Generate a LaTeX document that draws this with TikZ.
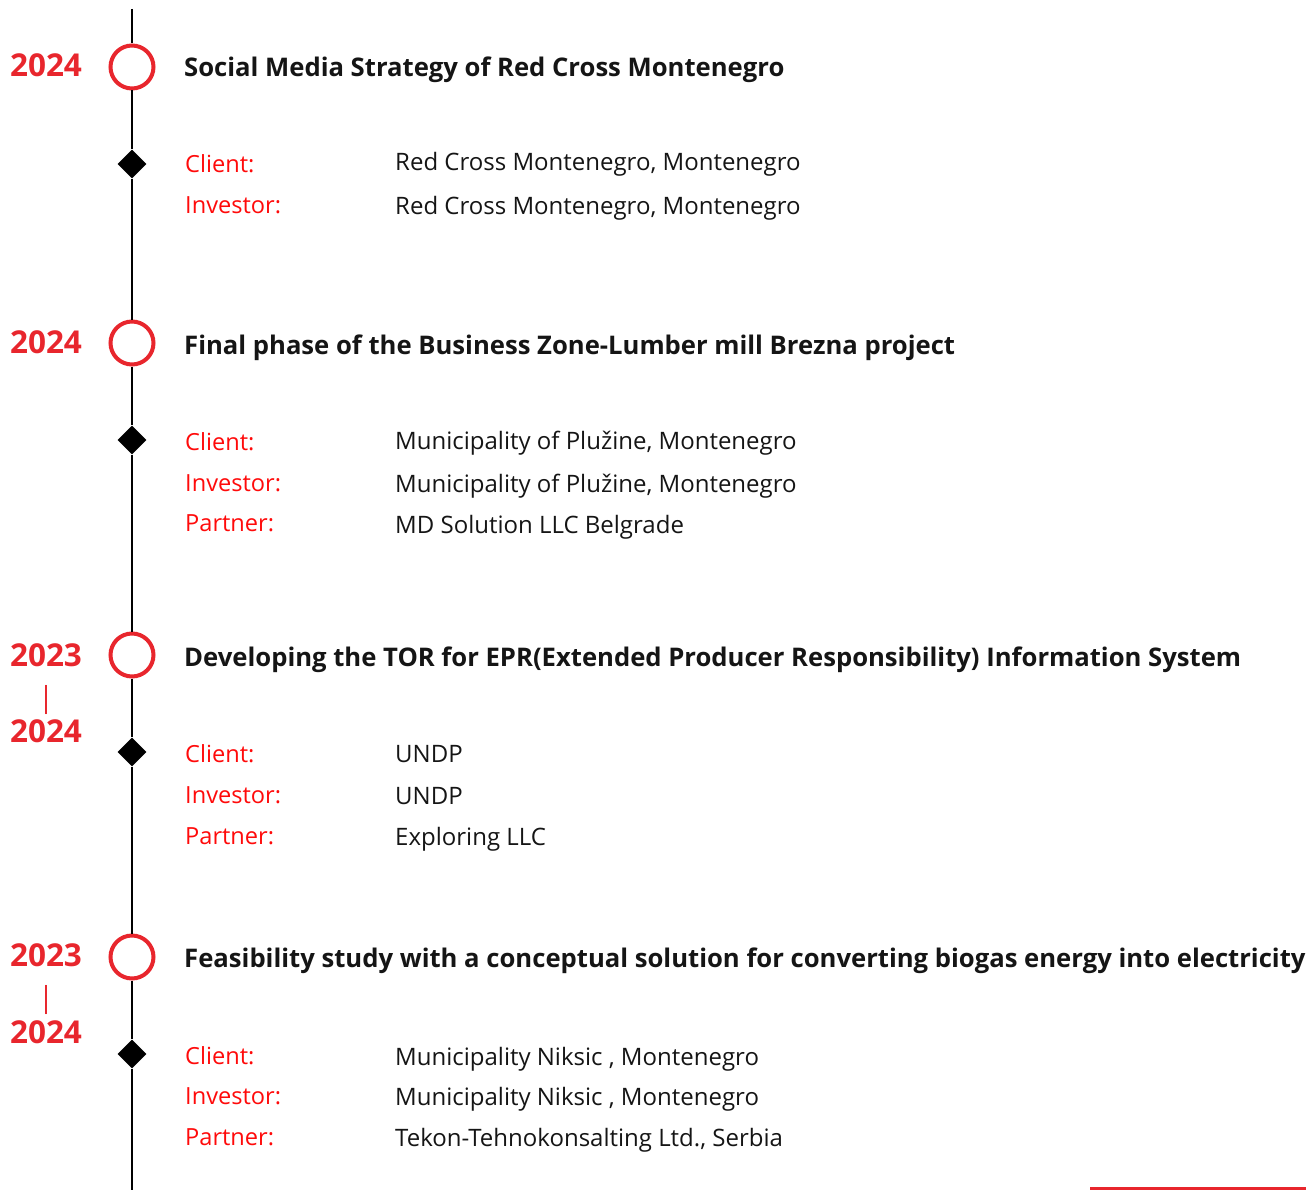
\documentclass[tikz,border=0pt]{standalone}
\usepackage{fontspec}
\setmainfont{Open Sans}
\usepackage{xcolor}
\definecolor{brandred}{HTML}{E8262D}
\definecolor{labelred}{HTML}{FF0A0A}
\definecolor{textdark}{HTML}{151515}
\usetikzlibrary{shapes.geometric}

\begin{document}
\begin{tikzpicture}[x=1pt,y=-1pt,
    milestone/.style={circle, draw=brandred, fill=white, line width=4pt, minimum size=43pt, inner sep=0pt},
    detailmark/.style={diamond, fill=black, minimum width=29pt, minimum height=29pt, inner sep=0pt},
    yeartext/.style={anchor=base, text=brandred, font=\bfseries\fontsize{31.5}{36}\selectfont, inner sep=0pt},
    yearbar/.style={text=brandred, font=\fontsize{29}{34}\selectfont, inner sep=0pt},
    titletext/.style={anchor=base west, text=textdark, font=\bfseries\fontsize{25.65}{30}\selectfont, inner sep=0pt},
    fieldlabel/.style={anchor=base west, text=labelred, font=\fontsize{23.6}{28}\selectfont, inner sep=0pt},
    fieldvalue/.style={anchor=base west, text=textdark, font=\fontsize{24}{28}\selectfont, inner sep=0pt},
    spine/.style={draw=black, line width=2.5pt},
  ]
    \useasboundingbox (0,0) rectangle (1306,1190);

    % timeline marks
    \coordinate (top) at (132,9);
    \coordinate (bottom) at (132,1190);
    \node[milestone] (m1) at (132,67) {};
    \node[detailmark] (d1) at (132,164) {};
    \node[milestone] (m2) at (132,343) {};
    \node[detailmark] (d2) at (132,440) {};
    \node[milestone] (m3) at (132,655) {};
    \node[detailmark] (d3) at (132,752) {};
    \node[milestone] (m4) at (132,957) {};
    \node[detailmark] (d4) at (132,1054) {};
    \draw[spine] (top) -- (m1) -- (d1) -- (m2) -- (d2) -- (m3) -- (d3) -- (m4) -- (d4) -- (bottom);

    % years
    \node[yeartext] (y1) at (46,77) {2024};
    \node[yeartext] (y2) at (46,353) {2024};
    \node[yeartext] (y3a) at (46,666) {2023};
    \node[yearbar] (y3b) at (46,700) {|};
    \node[yeartext] (y3c) at (46,742) {2024};
    \node[yeartext] (y4a) at (46,966) {2023};
    \node[yearbar] (y4b) at (46,1000) {|};
    \node[yeartext] (y4c) at (46,1043) {2024};

    % project 1
    \node[titletext] (t1) at (184,77) {Social Media Strategy of Red Cross Montenegro};
    \node[fieldlabel] (c1) at (185,173) {Client:};
    \node[fieldvalue] (cv1) at (395,171) {Red Cross Montenegro, Montenegro};
    \node[fieldlabel] (i1) at (185,214) {Investor:};
    \node[fieldvalue] (iv1) at (395,215) {Red Cross Montenegro, Montenegro};

    % project 2
    \node[titletext] (t2) at (184,354) {Final phase of the Business Zone-Lumber mill Brezna project};
    \node[fieldlabel] (c2) at (185,450) {Client:};
    \node[fieldvalue] (cv2) at (395,449) {Municipality of Plužine, Montenegro};
    \node[fieldlabel] (i2) at (185,491) {Investor:};
    \node[fieldvalue] (iv2) at (395,492) {Municipality of Plužine, Montenegro};
    \node[fieldlabel] (p2) at (185,531) {Partner:};
    \node[fieldvalue] (pv2) at (395,533) {MD Solution LLC Belgrade};

    % project 3
    \node[titletext] (t3) at (184,666) {Developing the TOR for EPR(Extended Producer Responsibility) Information System};
    \node[fieldlabel] (c3) at (185,762) {Client:};
    \node[fieldvalue] (cv3) at (395,762) {UNDP};
    \node[fieldlabel] (i3) at (185,803) {Investor:};
    \node[fieldvalue] (iv3) at (395,804) {UNDP};
    \node[fieldlabel] (p3) at (185,844) {Partner:};
    \node[fieldvalue] (pv3) at (395,845) {Exploring LLC};

    % project 4
    \node[titletext] (t4) at (184,967) {Feasibility study with a conceptual solution for converting biogas energy into electricity};
    \node[fieldlabel] (c4) at (185,1064) {Client:};
    \node[fieldvalue] (cv4) at (395,1065) {Municipality Niksic , Montenegro};
    \node[fieldlabel] (i4) at (185,1104) {Investor:};
    \node[fieldvalue] (iv4) at (395,1105) {Municipality Niksic , Montenegro};
    \node[fieldlabel] (p4) at (185,1145) {Partner:};
    \node[fieldvalue] (pv4) at (395,1146) {Tekon-Tehnokonsalting Ltd., Serbia};

    \draw[draw=brandred, line width=3pt] (1090,1188.5) -- (1306,1188.5);
  \end{tikzpicture}
\end{document}
